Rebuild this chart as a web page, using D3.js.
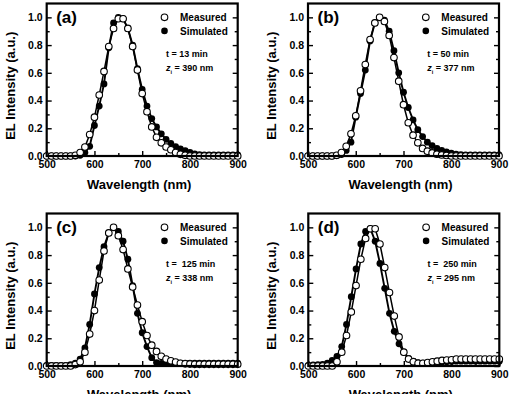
<!DOCTYPE html>
<html><head><meta charset="utf-8">
<script src="https://cdn.jsdelivr.net/npm/d3@7"></script>
<style>
html,body{margin:0;padding:0;background:#fff;}
svg{display:block;font-family:"Liberation Sans",Arial,sans-serif;font-weight:bold;}
</style></head>
<body>
<svg id="chart" width="516" height="394"></svg>
<script>
// ---- data ----
const wavelengths = d3.range(500, 901, 10);
const xTicks = [500, 600, 700, 800, 900];
const xMinorTicks = [550, 650, 750, 850];
const yTicks = [0, 0.2, 0.4, 0.6, 0.8, 1.0];
const yMinorTicks = [0.1, 0.3, 0.5, 0.7, 0.9];
const panelLabels = ["(a)", "(b)", "(c)", "(d)"];
const timeLabels = ["t = 13 min", "t = 50 min", "t =  125 min", "t =  250 min"];
const ziLabels = ["390 nm", "377 nm", "338 nm", "295 nm"];
const legendLabels = ["Measured", "Simulated"];

const measA = [0,0,0,0,0,0,0.005, 0.025,0.065,0.155,0.28,0.44,0.61,0.79,0.92,0.99,0.99,0.92,0.79,0.62,0.45,0.32,0.21,0.135,0.095,0.065,0.045,0.025,0.012,0.005, 0,0,0,0,0,0,0,0,0,0,0];
const simA  = [0,0,0,0,0,0,0,0.005, 0.025,0.07,0.22,0.36,0.52,0.78,0.96,1.0,0.99,0.92,0.80,0.63,0.48,0.36,0.27,0.21,0.16,0.12,0.09,0.068,0.052,0.038,0.026,0.016,0.01,0.008, 0.008,0.008,0.008,0.008,0.008,0.008,0.008];
const measB = [0,0,0,0,0,0,0.005, 0.025,0.07,0.16,0.29,0.47,0.66,0.84,0.96,1.0,0.97,0.87,0.71,0.54,0.37,0.24,0.15,0.095,0.055,0.035,0.022,0.013,0.008,0.004, 0,0,0,0,0,0,0,0,0,0,0];
const simB  = [0,0,0,0,0,0,0.003, 0.01,0.04,0.10,0.28,0.45,0.62,0.83,0.96,1.0,0.98,0.90,0.76,0.60,0.46,0.35,0.26,0.19,0.14,0.10,0.075,0.055,0.04,0.03,0.02,0.014,0.01, 0.008,0.008,0.008,0.008,0.008,0.008,0.008,0.008];
const measC = [0,0,0,0,0,0, 0.01,0.03,0.10,0.23,0.40,0.62,0.83,0.96,1.0,0.94,0.84,0.70,0.57,0.44,0.32,0.22,0.15,0.105,0.07,0.05,0.037,0.028,0.02,0.016,0.014, 0.012,0.012,0.012,0.012,0.012,0.012,0.012,0.012,0.012,0.012];
const simC  = [0.005,0.005,0.005,0.005,0.005, 0.01,0.02,0.05,0.13,0.30,0.52,0.71,0.86,0.96,1.0,0.97,0.90,0.77,0.58,0.38,0.24,0.14,0.06,0.025,0.018, 0.02,0.02,0.02,0.02,0.02,0.02,0.02,0.02,0.02,0.02,0.02,0.02,0.02,0.02,0.02,0.02];
const measD = [0,0,0,0,0,0, 0.03,0.10,0.22,0.39,0.58,0.77,0.92,0.99,0.99,0.88,0.71,0.53,0.36,0.21,0.10,0.05,0.03,0.02,0.02,0.025,0.03,0.035,0.04,0.043,0.045, 0.05,0.05,0.05,0.05,0.05,0.05,0.05,0.05,0.05,0.05];
const simD  = [0.005,0.008,0.01,0.012,0.02,0.04,0.07,0.14,0.30,0.50,0.70,0.88,0.97,0.99,0.90,0.74,0.56,0.38,0.25,0.16,0.10,0.055,0.035,0.025,0.02,0.022,0.024,0.026,0.028,0.03,0.032, 0.035,0.035,0.035,0.035,0.035,0.035,0.035,0.035,0.035,0.035];

const measured = [measA, measB, measC, measD];
const simulated = [simA, simB, simC, simD];

// ---- layout ----
const pw = 191, ph = 152.5;
const origins = [[46.7, 3.5], [308, 3.5], [46.7, 213.5], [308.3, 213.5]];

const svg = d3.select("#chart");
svg.append("rect").attr("width", 516).attr("height", 394).attr("fill", "#fff");

origins.forEach((o, i) => {
  const g = svg.append("g").attr("transform", `translate(${o[0]},${o[1]})`);
  const x = d3.scaleLinear().domain([500, 900]).range([0, pw]);
  const y = d3.scaleLinear().domain([0, 1.1]).range([ph, 0]);

  const styleAxis = sel => {
    sel.select(".domain").remove();
    sel.selectAll(".tick line").attr("stroke", "#000").attr("stroke-width", 1.4);
    sel.selectAll("text").attr("fill", "#000").style("font-size", "10.5px").style("font-weight", "bold")
       .style("font-family", '"Liberation Sans",Arial,sans-serif');
  };

  g.append("g").attr("transform", `translate(0,${ph})`)
    .call(d3.axisBottom(x).tickValues(xTicks).tickSize(-5).tickPadding(4.5).tickFormat(d3.format("d")))
    .call(styleAxis);
  g.append("g").attr("transform", `translate(0,${ph})`)
    .call(d3.axisBottom(x).tickValues(xMinorTicks).tickSize(-3).tickFormat(""))
    .call(styleAxis);
  g.append("g")
    .call(d3.axisLeft(y).tickValues(yTicks).tickSize(-5).tickPadding(4).tickFormat(d3.format(".1f")))
    .call(styleAxis);
  g.append("g")
    .call(d3.axisLeft(y).tickValues(yMinorTicks).tickSize(-3).tickFormat(""))
    .call(styleAxis);
  g.append("g").attr("transform", `translate(${pw},0)`)
    .call(d3.axisRight(y).tickValues(yTicks).tickSize(-5).tickFormat(""))
    .call(styleAxis);
  g.append("g").attr("transform", `translate(${pw},0)`)
    .call(d3.axisRight(y).tickValues(yMinorTicks).tickSize(-3).tickFormat(""))
    .call(styleAxis);

  const mData = wavelengths.map((w, k) => ({w, v: measured[i][k]}));
  const sData = wavelengths.map((w, k) => ({w, v: simulated[i][k]}));
  const line = d3.line().x(d => x(d.w)).y(d => y(d.v));

  g.append("path").datum(sData).attr("d", line).attr("fill", "none").attr("stroke", "#000").attr("stroke-width", 1.9);
  g.append("path").datum(mData).attr("d", line).attr("fill", "none").attr("stroke", "#000").attr("stroke-width", 1.5);

  g.selectAll(".sdot").data(sData).join("circle").attr("class", "sdot")
    .attr("cx", d => x(d.w)).attr("cy", d => y(d.v)).attr("r", 3.4).attr("fill", "#000");
  g.selectAll(".mdot").data(mData).join("circle").attr("class", "mdot")
    .attr("cx", d => x(d.w)).attr("cy", d => y(d.v)).attr("r", 3.3)
    .attr("fill", "#fff").attr("stroke", "#000").attr("stroke-width", 1.1);

  // frame
  g.append("rect").attr("width", pw).attr("height", ph).attr("fill", "none")
    .attr("stroke", "#000").attr("stroke-width", 2.2);

  // panel label
  g.append("text").attr("x", 9.5).attr("y", 19.5).style("font-size", "17px").text(panelLabels[i]);

  // legend
  g.append("circle").attr("cx", 117.8).attr("cy", 13.8).attr("r", 3.3)
    .attr("fill", "#fff").attr("stroke", "#000").attr("stroke-width", 1.1);
  g.append("circle").attr("cx", 117.8).attr("cy", 27.4).attr("r", 3.3).attr("fill", "#000");
  g.append("text").attr("x", 133.3).attr("y", 17.5).style("font-size", "10px").text(legendLabels[0]);
  g.append("text").attr("x", 133.3).attr("y", 31.2).style("font-size", "10px").text(legendLabels[1]);

  g.append("text").attr("x", 119.3).attr("y", 53.5).style("font-size", "9px")
    .attr("xml:space", "preserve").style("white-space", "pre").text(timeLabels[i]);
  const zt = g.append("text").attr("x", 119.3).attr("y", 67.5).style("font-size", "9px");
  zt.append("tspan").style("font-style", "italic").text("z");
  zt.append("tspan").attr("dy", 2.5).style("font-size", "5.5px").text("i");
  zt.append("tspan").attr("dy", -2.5).text(" = " + ziLabels[i]);

  // axis titles
  g.append("text").attr("text-anchor", "middle")
    .attr("transform", `translate(-32,${ph / 2 + 6}) rotate(-90)`)
    .style("font-size", "13px").text("EL Intensity (a.u.)");
  g.append("text").attr("text-anchor", "middle").attr("x", pw / 2 - 3).attr("y", ph + 33)
    .style("font-size", "13px").text("Wavelength (nm)");
});
</script>
</body></html>
